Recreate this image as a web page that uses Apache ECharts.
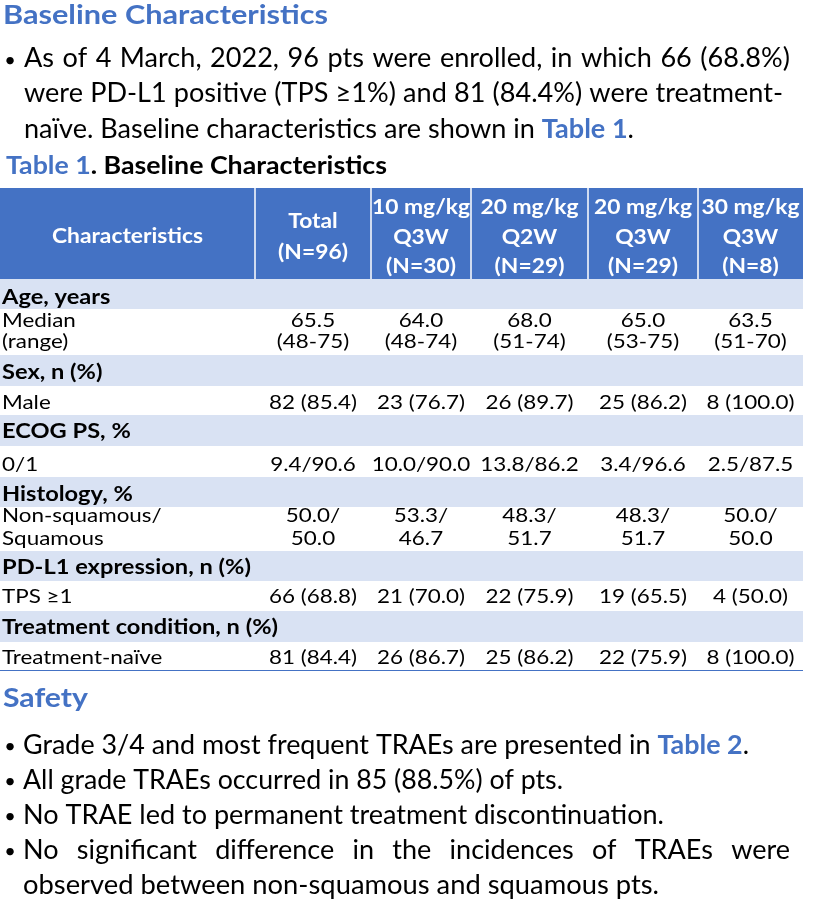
<!DOCTYPE html>
<html><head><meta charset="utf-8">
<script src="https://cdn.jsdelivr.net/npm/echarts@6/dist/echarts.min.js"></script>
<style>html,body{margin:0;padding:0;background:#fff}#c{width:822px;height:904px}</style>
</head><body><div id="c"></div>
<script>
// ---------------- DATA ----------------
const pageTitle = 'Baseline Characteristics';
const introLines = [
  'As of 4 March, 2022, 96 pts were enrolled, in which 66 (68.8%)',
  'were PD-L1 positive (TPS ≥1%) and 81 (84.4%) were treatment-',
  'naïve. Baseline characteristics are shown in [Table 1].'
];
const tableCaption = ['Table 1', '. Baseline Characteristics'];
const headerCols = [
  ['Characteristics'],
  ['Total', '(N=96)'],
  ['10 mg/kg', 'Q3W', '(N=30)'],
  ['20 mg/kg', 'Q2W', '(N=29)'],
  ['20 mg/kg', 'Q3W', '(N=29)'],
  ['30 mg/kg', 'Q3W', '(N=8)']
];
const sectionLabels = ['Age, years', 'Sex, n (%)', 'ECOG PS, %', 'Histology, %', 'PD-L1 expression, n (%)', 'Treatment condition, n (%)'];
const rowLabels = [['Median', '(range)'], ['Male'], ['0/1'], ['Non-squamous/', 'Squamous'], ['TPS ≥1'], ['Treatment-naïve']];
const totalVals = [['65.5', '(48-75)'], ['82 (85.4)'], ['9.4/90.6'], ['50.0/', '50.0'], ['66 (68.8)'], ['81 (84.4)']];
const q3w10Vals = [['64.0', '(48-74)'], ['23 (76.7)'], ['10.0/90.0'], ['53.3/', '46.7'], ['21 (70.0)'], ['26 (86.7)']];
const q2w20Vals = [['68.0', '(51-74)'], ['26 (89.7)'], ['13.8/86.2'], ['48.3/', '51.7'], ['22 (75.9)'], ['25 (86.2)']];
const q3w20Vals = [['65.0', '(53-75)'], ['25 (86.2)'], ['3.4/96.6'], ['48.3/', '51.7'], ['19 (65.5)'], ['22 (75.9)']];
const q3w30Vals = [['63.5', '(51-70)'], ['8 (100.0)'], ['2.5/87.5'], ['50.0/', '50.0'], ['4 (50.0)'], ['8 (100.0)']];
const safetyTitle = 'Safety';
const safetyLines = [
  '• Grade 3/4 and most frequent TRAEs are presented in [Table 2].',
  '• All grade TRAEs occurred in 85 (88.5%) of pts.',
  '• No TRAE led to permanent treatment discontinuation.',
  '• No significant difference in the incidences of TRAEs were',
  'observed between non-squamous and squamous pts.'
];

// ---------------- LAYOUT / STYLE ----------------
const BLUE = '#4472C4', BAND = '#D9E2F3';
const FF = 'Lato, "Open Sans", sans-serif';
const colX = [0, 255, 371, 471, 588, 698, 803];
const headerTop = 188, headerBot = 279;
const bandY = [[279, 309], [355, 386], [415, 446], [477, 507], [551, 581], [611, 642]];
const bandCap = [296, 371, 430.5, 493.5, 566.5, 626];
const rowCaps = [[320, 341], [401.5], [463.5], [515, 537.5], [595.5], [656.5]];
const tableBottom = 670.5;

const ctx = document.createElement('canvas').getContext('2d');
function mw(str, sz, w) { ctx.font = (w || 'normal') + ' ' + sz + 'px ' + FF; return ctx.measureText(str).width; }
const els = [];
function txt(str, x, capY, sz, w, fill, align, sx) {
  els.push({
    type: 'text', x: x, y: capY + 0.06 * sz, scaleX: sx || 1, silent: true,
    style: { text: str, fontSize: sz, fontWeight: w || 'normal', fontFamily: FF, fill: fill || '#000',
      textAlign: align || 'left', align: align || 'left', textVerticalAlign: 'middle', verticalAlign: 'middle' }
  });
}
function bullet(x, capY) { txt('•', x, capY + 1.5, 20, 'normal', '#000', 'center'); }
function segs(str) {
  const out = []; const re = /\[([^\]]+)\]/g; let last = 0, m;
  while ((m = re.exec(str))) { if (m.index > last) out.push({ t: str.slice(last, m.index), b: false }); out.push({ t: m[1], b: true }); last = re.lastIndex; }
  if (last < str.length) out.push({ t: str.slice(last), b: false });
  return out;
}
function natural(str, x0, x1, capY, sz) {
  const ss = segs(str); const ws = ss.map(s => mw(s.t, sz, s.b ? 'bold' : 'normal'));
  const tot = ws.reduce((a, b) => a + b, 0); const s = (x1 - x0) / tot; let cx = x0;
  ss.forEach((sg, i) => { txt(sg.t, cx, capY, sz, sg.b ? 'bold' : 'normal', sg.b ? BLUE : '#000', 'left', s); cx += ws[i] * s; });
  return s;
}
function justified(str, x0, x1, capY, sz, s) {
  const words = str.split(' '); const ws = words.map(w => mw(w, sz));
  const sum = ws.reduce((a, b) => a + b, 0) * s; const gap = (x1 - x0 - sum) / (words.length - 1); let cx = x0;
  words.forEach((w, i) => { txt(w, cx, capY, sz, 'normal', '#000', 'left', s); cx += ws[i] * s + gap; });
}

// Title
txt(pageTitle, 3, 13.5, 27, 'bold', BLUE, 'left', 325 / mw(pageTitle, 27, 'bold'));
// Intro paragraph
const BS = 26;
bullet(10, 57.5);
const sIntro = natural(introLines[2], 24, 634, 128.5, BS);
justified(introLines[0], 24, 790, 57.5, BS, sIntro);
justified(introLines[1], 24, 783, 92.5, BS, sIntro);
// Caption
(function () {
  const w1 = mw(tableCaption[0], 24, 'bold'), w2 = mw(tableCaption[1], 24, 'bold');
  const s = 381 / (w1 + w2);
  txt(tableCaption[0], 6, 164.5, 24, 'bold', BLUE, 'left', s);
  txt(tableCaption[1], 6 + w1 * s, 164.5, 24, 'bold', '#000', 'left', s);
})();
// Table header
els.push({ type: 'rect', shape: { x: colX[0], y: headerTop, width: colX[6] - colX[0], height: headerBot - headerTop }, style: { fill: BLUE }, silent: true });
for (let i = 1; i < 6; i++) els.push({ type: 'line', shape: { x1: colX[i], y1: headerTop, x2: colX[i], y2: headerBot }, style: { stroke: '#fff', lineWidth: 1.5 }, silent: true });
const hs = 98 / mw('20 mg/kg', 21, 'bold');
headerCols.forEach((lines, c) => {
  const cx = (colX[c] + colX[c + 1]) / 2;
  const ys = lines.length === 1 ? [235] : lines.length === 2 ? [220, 250.5] : [205.5, 235.5, 265];
  lines.forEach((l, k) => txt(l, cx, ys[k], 21, 'bold', '#fff', 'center', hs));
});
// Bands
const bs = 276 / mw('Treatment condition, n (%)', 20, 'bold');
bandY.forEach((b, i) => {
  els.push({ type: 'rect', shape: { x: colX[0], y: b[0], width: colX[6] - colX[0], height: b[1] - b[0] }, style: { fill: BAND }, silent: true });
  txt(sectionLabels[i], 2, bandCap[i], 20, 'bold', '#000', 'left', bs);
});
// Rows
const cs = 88 / mw('82 (85.4)', 19);
const valCols = [totalVals, q3w10Vals, q2w20Vals, q3w20Vals, q3w30Vals];
rowLabels.forEach((lab, r) => {
  lab.forEach((l, k) => txt(l, 2, rowCaps[r][k], 19, 'normal', '#000', 'left', cs));
  valCols.forEach((vc, c) => {
    const cx = (colX[c + 1] + colX[c + 2]) / 2;
    vc[r].forEach((v, k) => txt(v, cx, rowCaps[r][k], 19, 'normal', '#000', 'center', cs));
  });
});
els.push({ type: 'line', shape: { x1: colX[0], y1: tableBottom, x2: colX[6], y2: tableBottom }, style: { stroke: BLUE, lineWidth: 1.2 }, silent: true });
// Safety
txt(safetyTitle, 3, 697, 27, 'bold', BLUE, 'left', 85 / mw(safetyTitle, 27, 'bold'));
const sCaps = [744, 779, 814, 849, 884];
const sEnds = [749, 563, 664, 790, 659];
let sAcc = [];
safetyLines.forEach((line, i) => {
  let body = line;
  if (line.startsWith('• ')) { bullet(10, sCaps[i]); body = line.slice(2); }
  if (i !== 3) sAcc.push(natural(body, 23, sEnds[i], sCaps[i], BS));
});
justified(safetyLines[3].slice(2), 23, sEnds[3], sCaps[3], BS, sAcc.reduce((a, b) => a + b, 0) / sAcc.length);

const chart = echarts.init(document.getElementById('c'), null, { renderer: 'canvas' });
chart.setOption({ animation: false, graphic: { elements: els } });
</script>
</body></html>
